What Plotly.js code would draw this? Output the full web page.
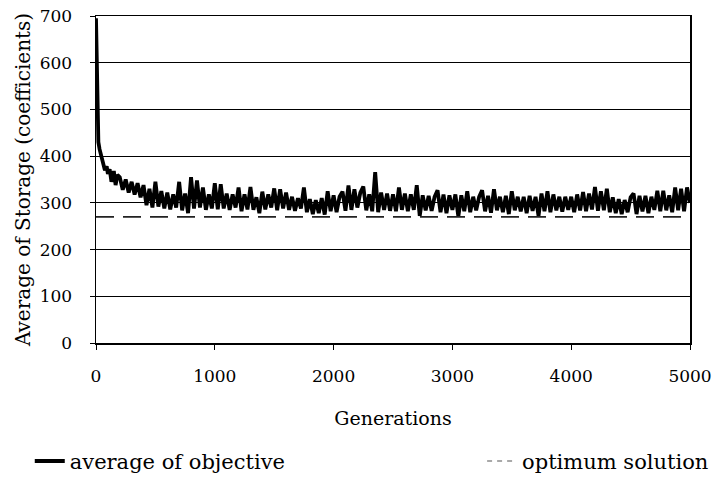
<!DOCTYPE html>
<html>
<head>
<meta charset="utf-8">
<script src="https://cdn.plot.ly/plotly-3.0.1.min.js"></script>
<style>html,body{margin:0;padding:0;background:#fff;}#chart{width:715px;height:483px;}</style>
</head>
<body>
<div id="chart"></div>
<script>
// early generations (steep descent)
const earlyGen = [0, 5, 10, 15, 20, 30, 40, 50, 60, 75, 90, 100, 115, 130, 150, 165, 180];
const earlyVal = [695, 610, 540, 470, 430, 415, 405, 392, 384, 370, 378, 362, 372, 345, 368, 338, 360];
// generations 200..5000, every 25 generations
const laterStart = 200;
const laterStep = 25;
const laterVal = [
  355, 328, 350, 322, 345, 318, 342, 312,
  338, 295, 330, 290, 345, 292, 325, 288,
  322, 286, 318, 290, 345, 284, 320, 278,
  355, 288, 348, 290, 333, 285, 318, 288,
  342, 286, 340, 288, 320, 285, 318, 290,
  333, 282, 318, 286, 334, 285, 312, 278,
  324, 286, 318, 290, 331, 284, 329, 288,
  322, 285, 313, 283, 310, 288, 333, 280,
  308, 276, 306, 278, 310, 275, 325, 282,
  316, 280, 313, 324, 283, 337, 285, 329,
  290, 322, 335, 284, 318, 282, 366, 280,
  322, 285, 320, 283, 318, 282, 333, 285,
  320, 282, 318, 285, 338, 272, 316, 284,
  315, 283, 313, 327, 280, 318, 278, 316,
  285, 318, 271, 316, 282, 325, 280, 313,
  284, 313, 327, 282, 315, 279, 329, 284,
  313, 280, 315, 276, 325, 284, 313, 282,
  313, 278, 315, 283, 313, 272, 320, 282,
  325, 280, 318, 284, 313, 281, 313, 285,
  313, 280, 318, 284, 323, 282, 320, 286,
  334, 283, 325, 284, 330, 280, 312, 278,
  308, 276, 306, 280, 312, 320, 276, 315,
  282, 315, 278, 313, 285, 326, 282, 326,
  284, 316, 280, 333, 284, 330, 282, 333,
  300
];
const optimumValue = 270;
const genRange = [0, 5000];
const seriesNames = ['average of objective', 'optimum solution'];

const laterGen = laterVal.map((v, i) => laterStart + i * laterStep);
const gens = earlyGen.concat(laterGen);
const vals = earlyVal.concat(laterVal);

const FONT = 'DejaVu Serif';

const traces = [
  {
    x: gens, y: vals, type: 'scatter', mode: 'lines',
    name: seriesNames[0],
    line: {color: '#000', width: 3.8},
    legend: 'legend'
  },
  {
    x: genRange, y: [optimumValue, optimumValue], type: 'scatter', mode: 'lines',
    name: seriesNames[1],
    line: {color: '#222', width: 1.6, dash: '18px,9px'},
    showlegend: false
  },
  {
    x: [null], y: [null], type: 'scatter', mode: 'lines',
    name: seriesNames[1],
    line: {color: '#555', width: 1.2, dash: '5px,5px'},
    legend: 'legend2'
  }
];

const layout = {
  width: 715, height: 483,
  margin: {l: 96, r: 25, t: 16, b: 140, autoexpand: false},
  paper_bgcolor: '#fff', plot_bgcolor: '#fff',
  font: {family: FONT, color: '#000', size: 18},
  showlegend: true,
  xaxis: {
    range: genRange, dtick: 1000, tick0: 0,
    showgrid: false, zeroline: false,
    showline: true, linecolor: '#000', linewidth: 1.5, mirror: true,
    ticks: 'outside', ticklen: 5, tickcolor: '#000', tickwidth: 1,
    ticklabelstandoff: 12,
    tickfont: {family: FONT, size: 17, color: '#000'},
    title: {text: 'Generations', font: {family: FONT, size: 19, color: '#000'}, standoff: 27}
  },
  yaxis: {
    range: [0, 700], dtick: 100, tick0: 0,
    showgrid: true, gridcolor: '#000', gridwidth: 1,
    zeroline: false,
    showline: true, linecolor: '#000', linewidth: 1.5, mirror: true,
    ticks: 'outside', ticklen: 5, tickcolor: '#000', tickwidth: 1,
    ticklabelstandoff: 14,
    tickfont: {family: FONT, size: 17, color: '#000'},
    title: {text: 'Average of Storage (coefficients)', font: {family: FONT, size: 20, color: '#000'}, standoff: 3}
  },
  legend: {
    x: -0.1115, xanchor: 'left', y: -0.362, yanchor: 'middle',
    orientation: 'h', bgcolor: 'rgba(0,0,0,0)',
    font: {family: FONT, size: 21, color: '#000'}
  },
  legend2: {
    x: 0.65, xanchor: 'left', y: -0.362, yanchor: 'middle',
    orientation: 'h', bgcolor: 'rgba(0,0,0,0)',
    font: {family: FONT, size: 21, color: '#000'}
  }
};

Plotly.newPlot('chart', traces, layout, {displayModeBar: false, staticPlot: true});
</script>
</body>
</html>
